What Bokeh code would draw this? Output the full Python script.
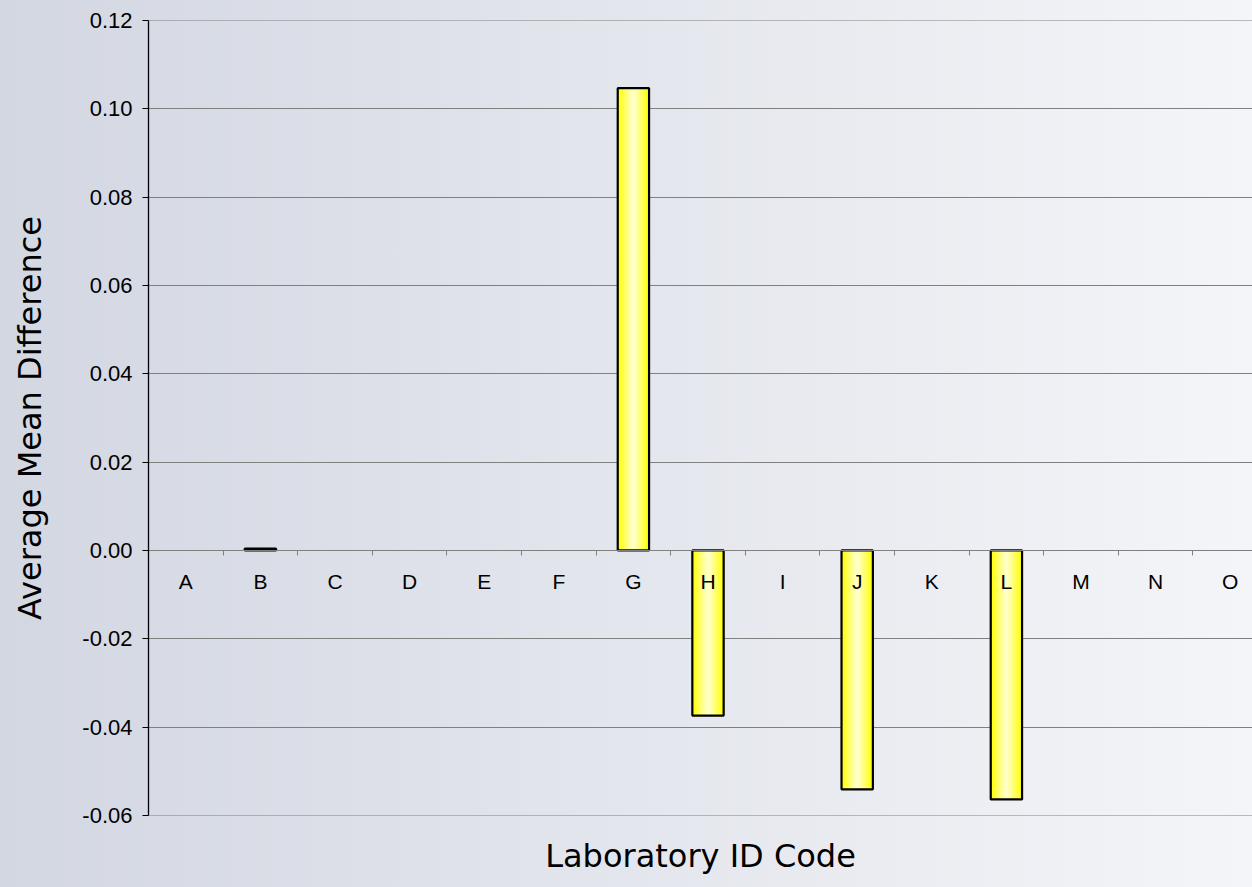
from bokeh.plotting import figure
from bokeh.models import (Range1d, FixedTicker, NumeralTickFormatter, LinearAxis,
                          ColumnDataSource, GlobalInlineStyleSheet)
from bokeh.core.properties import value
from bokeh.embed import file_html
from bokeh.resources import INLINE

# ---- data ----
lab_codes = ["A", "B", "C", "D", "E", "F", "G", "H", "I", "J", "K", "L", "M", "N", "O"]
avg_mean_diff = [None, 0.0004, None, None, None, None, 0.1047, -0.0374, None,
                 -0.0541, None, -0.0564, None, None, None]
y_tick_values = [-0.06, -0.04, -0.02, 0.0, 0.02, 0.04, 0.06, 0.08, 0.10, 0.12]
x_title = "Laboratory ID Code"
y_title = "Average Mean Difference"

# ---- derived ----
centers = [i + 0.5 for i in range(len(lab_codes))]
boundaries = [float(i) for i in range(1, len(lab_codes))]
bar_x = [c for c, v in zip(centers, avg_mean_diff) if v is not None]
bar_top = [v for v in avg_mean_diff if v is not None]
bars = ColumnDataSource(dict(x=bar_x, top=bar_top))
labels = ColumnDataSource(dict(x=centers, y=[0.0] * len(centers), t=lab_codes))

BAR_W = 0.42
PX_PER_CAT = 74.6
FRAME_W = 1104
EPS = 0.00003

p = figure(width=1252, height=887, output_backend="svg", toolbar_location=None,
           x_range=Range1d(0, FRAME_W / PX_PER_CAT),
           y_range=Range1d(-0.06 - EPS, 0.12 + EPS),
           min_border_left=148, min_border_right=0, min_border_top=20,
           min_border_bottom=72)
p.border_fill_alpha = 0
p.background_fill_alpha = 0
p.outline_line_color = None
p.stylesheets = [GlobalInlineStyleSheet(css=(
    "html{min-height:100%;background:linear-gradient(to right,#d3d7e2,#f4f5f8) fixed;}"
    "body{background:transparent;}"))]

# grid
p.xgrid.visible = False
p.ygrid.grid_line_color = "#808080"
p.ygrid.grid_line_width = 1
p.ygrid.ticker = FixedTicker(ticks=y_tick_values)

# y axis
p.yaxis.ticker = FixedTicker(ticks=y_tick_values)
p.yaxis.formatter = NumeralTickFormatter(format="0.00")
p.yaxis.major_tick_out = 6
p.yaxis.major_tick_in = 0
p.yaxis.minor_tick_line_color = None
p.yaxis.axis_line_color = "black"
p.yaxis.axis_line_width = 1.3
p.yaxis.major_tick_line_color = "black"
p.yaxis.major_label_text_font = "Liberation Sans"
p.yaxis.major_label_text_font_size = "22px"
p.yaxis.major_label_text_color = "black"
p.yaxis.major_label_standoff = 10
p.yaxis.axis_label = y_title
p.yaxis.axis_label_text_font = "DejaVu Sans"
p.yaxis.axis_label_text_font_size = "32px"
p.yaxis.axis_label_text_font_style = "normal"
p.yaxis.axis_label_text_color = "black"
p.yaxis.axis_label_standoff = 30

# x axis at zero with ticks on category boundaries
p.xaxis.fixed_location = 0
p.xaxis.ticker = FixedTicker(ticks=boundaries)
p.xaxis.major_label_text_color = None
p.xaxis.major_tick_out = 5
p.xaxis.major_tick_in = 0
p.xaxis.minor_tick_line_color = None
p.xaxis.axis_line_color = "#808080"
p.xaxis.major_tick_line_color = "#808080"

# separate bottom axis carrying only the x title
title_axis = LinearAxis(ticker=FixedTicker(ticks=[]), axis_line_color=None,
                        major_tick_line_color=None, minor_tick_line_color=None,
                        major_label_text_color=None,
                        axis_label=x_title, axis_label_text_font="DejaVu Sans",
                        axis_label_text_font_size="32px",
                        axis_label_text_font_style="normal",
                        axis_label_text_color="black", axis_label_standoff=21)
p.add_layout(title_axis, "below")

# bars with a horizontal light gradient
n = 10
c0 = (255, 255, 10)
c1 = (255, 255, 200)
for k in range(n):
    f = k / (n - 1)
    col = "#%02x%02x%02x" % tuple(int(round(a + (b - a) * f)) for a, b in zip(c0, c1))
    p.vbar(x="x", top="top", bottom=0, width=BAR_W * (1 - k / n), source=bars,
           fill_color=col, line_color=None)
p.vbar(x="x", top="top", bottom=0, width=BAR_W, source=bars,
       fill_color=None, line_color="black", line_width=2.2)

# category labels
p.text(x="x", y="y", text="t", source=labels, text_align="center",
       text_baseline="middle", y_offset=31, text_font=value("Liberation Sans"),
       text_font_size="21px", text_color="black")

open("out.html", "w").write(file_html(p, INLINE))
